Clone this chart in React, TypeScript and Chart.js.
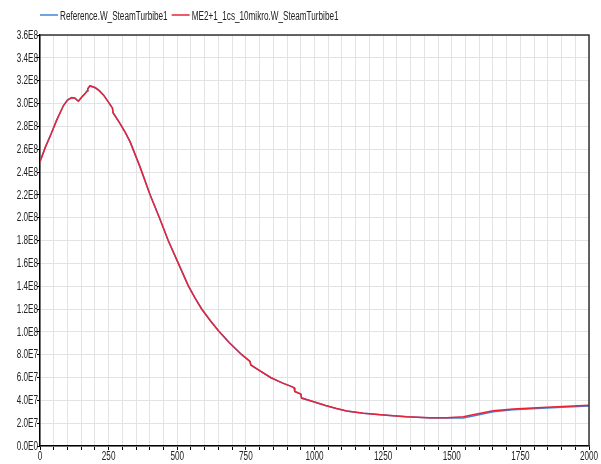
import React, { useEffect, useRef } from "react";
import { Chart, registerables } from "chart.js";

Chart.register(...registerables);

const seriesNames = ["Reference.W_SteamTurbibe1", "ME2+1_1cs_10mikro.W_SteamTurbibe1"];

const times = [
  0, 20, 40, 60, 85, 100, 115, 127, 140, 150, 165, 172, 174, 182, 200, 215, 231, 250, 261, 264,
  266, 290, 310, 328, 364, 401, 435, 467, 504, 540, 565, 589, 620, 650, 690, 735, 765, 768, 800, 840,
  880, 917, 926, 928, 950, 953, 1000, 1040, 1080, 1117, 1178, 1263, 1336, 1421, 1482, 1542, 1591,
  1651, 1724, 1846, 2000,
];

// values in W
const me2Values = [
  249e6, 262e6, 273e6, 285e6, 298e6, 303e6, 305e6, 304.6e6, 302e6, 305e6,
  309e6, 311e6, 313e6, 315.4e6, 314e6, 311.5e6, 307.5e6, 301e6, 297e6, 296e6,
  292e6, 283e6, 275e6, 266.6e6, 244.7e6, 220e6, 200e6, 180e6, 160e6, 140.5e6,
  129.5e6, 120e6, 110e6, 101e6, 90.5e6, 80e6, 74e6, 71e6, 66e6, 60e6,
  55.5e6, 52e6, 51e6, 47.8e6, 45.6e6, 42e6, 38.5e6, 35.5e6, 32.8e6, 30.7e6,
  28.6e6, 26.9e6, 25.7e6, 24.8e6, 24.8e6, 25.7e6, 28e6, 30.9e6, 32.4e6, 33.9e6,
  35.6e6,
];

const refValues = [
  249e6, 262e6, 273e6, 285e6, 298e6, 303e6, 305.3e6, 304.8e6, 302e6, 305e6,
  309e6, 311e6, 313e6, 315.6e6, 314e6, 311.5e6, 307.5e6, 301e6, 297e6, 296e6,
  292e6, 283e6, 275e6, 266.6e6, 244.7e6, 220e6, 200e6, 180e6, 160e6, 140.5e6,
  129.5e6, 120e6, 110e6, 101e6, 90.5e6, 80e6, 74e6, 71e6, 66e6, 60e6,
  55.5e6, 52e6, 51e6, 47.8e6, 45.6e6, 42e6, 38.5e6, 35.5e6, 32.8e6, 30.7e6,
  28.6e6, 26.9e6, 25.6e6, 24.6e6, 24.5e6, 24.5e6, 27e6, 30e6, 31.8e6, 33.3e6,
  35.0e6,
];

const FONT = "12px 'Liberation Sans', Arial, sans-serif";
const SQUEEZE = 0.68;
const TEXT_COLOR = "#222";
const BLUE = "#3f86d8";
const RED = "#ea2236";

const fmtExp = (v: number) => Number(v).toExponential(1).toUpperCase().replace("E+", "E");

function narrowText(ctx: CanvasRenderingContext2D, text: string, x: number, y: number, align: CanvasTextAlign) {
  ctx.save();
  ctx.translate(x, y);
  ctx.scale(SQUEEZE, 1);
  ctx.textAlign = align;
  ctx.fillText(text, 0, 0);
  ctx.restore();
}

const frameLabelsLegend = {
  id: "frameLabelsLegend",
  afterDraw(chart: any) {
    const { ctx, chartArea, scales } = chart;
    ctx.save();
    // top & right frame
    ctx.strokeStyle = "#333";
    ctx.lineWidth = 1.5;
    ctx.beginPath();
    ctx.moveTo(chartArea.left, chartArea.top);
    ctx.lineTo(chartArea.right, chartArea.top);
    ctx.lineTo(chartArea.right, chartArea.bottom);
    ctx.stroke();

    ctx.font = FONT;
    ctx.fillStyle = TEXT_COLOR;
    ctx.textBaseline = "middle";
    // y tick labels
    scales.y.ticks.forEach((t: any) => {
      const py = scales.y.getPixelForValue(t.value);
      narrowText(ctx, fmtExp(t.value), chartArea.left - 2, py + 0.5, "right");
    });
    // x tick labels
    scales.x.ticks.forEach((t: any) => {
      if (Number(t.value) % 250 !== 0) return;
      const px = scales.x.getPixelForValue(t.value);
      narrowText(ctx, String(t.value), px, chartArea.bottom + 10.5, "center");
    });

    // legend
    let x = chartArea.left;
    const y = 15;
    chart.data.datasets.forEach((ds: any) => {
      ctx.strokeStyle = ds.borderColor;
      ctx.lineWidth = 1.5;
      ctx.beginPath();
      ctx.moveTo(x, y);
      ctx.lineTo(x + 18, y);
      ctx.stroke();
      x += 20;
      ctx.fillStyle = TEXT_COLOR;
      narrowText(ctx, ds.label, x, y + 1.5, "left");
      x += ctx.measureText(ds.label).width * SQUEEZE + 4;
    });
    ctx.restore();
  },
};

export default function App() {
  const ref = useRef<HTMLCanvasElement | null>(null);
  useEffect(() => {
    document.body.style.margin = "0";
    if (!ref.current) return;
    const chart = new Chart(ref.current, {
      type: "line",
      data: {
        datasets: [
          {
            label: seriesNames[0],
            data: times.map((t, i) => ({ x: t, y: refValues[i] })),
            borderColor: BLUE,
            borderWidth: 1.5,
            pointRadius: 0,
            tension: 0,
            order: 2,
          },
          {
            label: seriesNames[1],
            data: times.map((t, i) => ({ x: t, y: me2Values[i] })),
            borderColor: RED,
            borderWidth: 1.5,
            pointRadius: 0,
            tension: 0,
            order: 1,
          },
        ],
      },
      options: {
        animation: false,
        responsive: false,
        maintainAspectRatio: false,
        layout: { padding: { left: 0, right: 12, top: 35, bottom: 0 } },
        plugins: { legend: { display: false }, tooltip: { enabled: false } },
        scales: {
          x: {
            type: "linear",
            min: 0,
            max: 2000,
            afterFit: (s: any) => {
              s.height = 18;
            },
            ticks: {
              stepSize: 50,
              autoSkip: false,
              maxRotation: 0,
              display: false,
            },
            grid: { color: "#e3e3e3", lineWidth: 1, tickLength: 4, tickColor: "#000" },
            border: { color: "#000", width: 1.5 },
          },
          y: {
            min: 0,
            max: 3.6e8,
            afterFit: (s: any) => {
              s.width = 40;
            },
            ticks: {
              stepSize: 2e7,
              autoSkip: false,
              display: false,
            },
            grid: { color: "#e3e3e3", lineWidth: 1, tickLength: 3, tickColor: "#000" },
            border: { color: "#000", width: 1.5 },
          },
        },
      },
      plugins: [frameLabelsLegend],
    });
    return () => chart.destroy();
  }, []);
  return <canvas ref={ref} width={601} height={464} style={{ display: "block" }} />;
}
